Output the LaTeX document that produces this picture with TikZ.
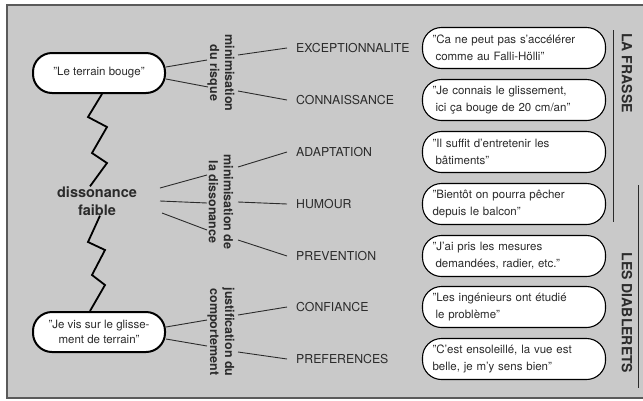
\documentclass[tikz,border=0pt]{standalone}
\usepackage{fontspec}
\setmainfont{TeX Gyre Heros}
\usetikzlibrary{shapes,arrows}
\usepackage{xcolor}
\definecolor{fond}{HTML}{C9C9C9}
\definecolor{encre}{HTML}{2B2B2B}
\definecolor{cadre}{HTML}{5A5A5A}

\begin{document}
\begin{tikzpicture}[x=1pt,y=-1pt,
  citation/.style={draw=black,fill=white,line width=1.1pt,rounded corners=19pt,
    minimum width=183pt,minimum height=41pt,text width=163pt,align=left,
    inner sep=0pt,text=encre,font=\fontsize{11.5}{17}\selectfont},
  idee/.style={draw=black,fill=white,line width=2pt,rounded corners=19pt,
    minimum width=132pt,minimum height=40pt,align=center,
    text=encre,font=\fontsize{11.5}{15}\selectfont},
  categorie/.style={anchor=west,inner sep=0pt,text=encre,font=\fontsize{12.3}{14}\selectfont},
  strategie/.style={rotate=-90,align=center,inner sep=0pt,text=encre,
    font=\bfseries\fontsize{12.5}{15}\selectfont},
  lieu/.style={rotate=-90,inner sep=0pt,text=encre,font=\bfseries\fontsize{14}{16}\selectfont},
  trait/.style={line width=0.9pt,draw=encre},
  zigzag/.style={line width=1.8pt,line join=miter,draw=black}]
        \useasboundingbox (0,0) rectangle (643,400);
        \clip (0,0) rectangle (643,400);
        \fill[white] (0,0) rectangle (643,400);
        \draw[cadre,line width=1.5pt,fill=fond] (7,5) rectangle (660,398); % cadre
        % situations
        \node[idee] (terrain) at (99,73) {"Le terrain bouge"};
        \node[inner sep=0pt,align=center,text=encre,font=\bfseries\fontsize{14.5}{18}\selectfont]
          (dissonance) at (97,201) {dissonance\\faible};
        \node[idee] (glissement) at (99,332) {"Je vis sur le glisse-\\ment de terrain"};
        % strategies
        \node[strategie] (risque) at (221,73) {minimisation\\du risque};
        \node[strategie] (reduction) at (221,202) {minimisation de\\la dissonance};
        \node[strategie] (justification) at (221,332) {justification du\\comportement};
        % categories et citations
        \foreach \nom/\y/\texte in {exc/48/EXCEPTIONNALITE, con/100/CONNAISSANCE,
            ada/152/ADAPTATION, hum/204/HUMOUR, pre/256/PREVENTION,
            cnf/307/CONFIANCE, prf/359/PREFERENCES}
        \node[categorie] (\nom) at (296,\y) {\texte};
        \foreach \nom/\y/\texte in {
            exc/48/{"Ca ne peut pas s'accélérer\\\hspace*{3pt}comme au Falli-Hölli"},
            con/100/{"Je connais le glissement,\\\hspace*{3pt}ici ça bouge de 20 cm/an"},
            ada/152/{"Il suffit d'entretenir les\\\hspace*{3pt}bâtiments"},
            hum/204/{"Bientôt on pourra pêcher\\depuis le balcon"},
            pre/256/{"J'ai pris les mesures\\\hspace*{3pt}demandées, radier, etc."},
            cnf/307/{"Les ingénieurs ont étudié\\\hspace*{3pt}le problème"},
            prf/359/{"C'est ensoleillé, la vue est\\belle, je m'y sens bien"}}
        \node[citation] (c-\nom) at (514,\y) {\texte};
        % lieux
        \draw[encre,line width=1pt] (613,30) -- (613,222);
        \draw[encre,line width=1pt] (638,185) -- (638,388);
        \node[lieu] (frasse) at (627,73) {LA FRASSE};
        \node[lieu] (diablerets) at (627,313) {LES DIABLERETS};
        % zigzags
        \draw[zigzag] ([xshift=3pt]terrain.south) -- (88,117) -- (107,127) -- (92,153)
          -- (107,163) -- ([xshift=-7pt]dissonance.north);
        \draw[zigzag] ([xshift=3pt]dissonance.south) -- (88,242) -- (105,250) -- (92,275)
          -- (105,285) -- ([xshift=-9pt]glissement.north);
        % minimisation du risque
        \draw[trait] ([yshift=6pt]terrain.east) -- ([xshift=-14pt,yshift=13pt]risque.center);
        \draw[trait] ([yshift=-6pt]terrain.east) -- ([xshift=-13pt,yshift=-14pt]risque.center);
        \draw[trait] ([xshift=17pt,yshift=18pt]risque.center) -- ([xshift=-9pt]exc.west);
        \draw[trait] ([xshift=17pt,yshift=-18pt]risque.center) -- ([xshift=-9pt]con.west);
        % minimisation de la dissonance
        \draw[trait] ([xshift=63pt,yshift=13pt]dissonance.center) -- ([xshift=-14pt,yshift=27pt]reduction.center);
        \draw[trait] ([xshift=63pt]dissonance.center) -- ([xshift=-14pt,yshift=-1pt]reduction.center);
        \draw[trait] ([xshift=65pt,yshift=-12pt]dissonance.center) -- ([xshift=-14pt,yshift=-28pt]reduction.center);
        \draw[trait] ([xshift=17pt,yshift=35pt]reduction.center) -- ([xshift=-9pt]ada.west);
        \draw[trait] ([xshift=17pt]reduction.center) -- ([xshift=-9pt]hum.west);
        \draw[trait] ([xshift=17pt,yshift=-38pt]reduction.center) -- ([xshift=-9pt]pre.west);
        % justification du comportement
        \draw[trait] ([yshift=5pt]glissement.east) -- ([xshift=-14pt,yshift=12pt]justification.center);
        \draw[trait] ([yshift=-7pt]glissement.east) -- ([xshift=-14pt,yshift=-14pt]justification.center);
        \draw[trait] ([xshift=17pt,yshift=17pt]justification.center) -- ([xshift=-9pt]cnf.west);
        \draw[trait] ([xshift=17pt,yshift=-20pt]justification.center) -- ([xshift=-9pt]prf.west);
\end{tikzpicture}
\end{document}
